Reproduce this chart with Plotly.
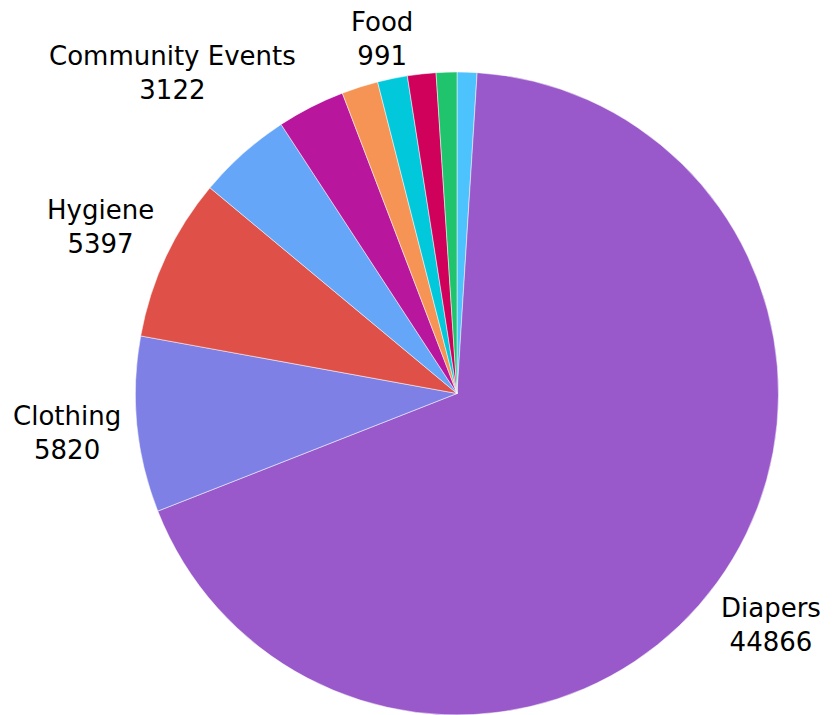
import math
import plotly.graph_objects as go

labels = ["Other 1", "Diapers", "Clothing", "Hygiene", "Community Events",
          "Other 2", "Other 3", "Food", "Other 4", "Other 5"]
values = [658, 44866, 5820, 5397, 3122, 2250, 1207, 991, 944, 684]
show_label = [False, True, True, True, True, False, False, True, False, False]
colors = ["#4cc3fd", "#9959ca", "#7f80e6", "#df5148", "#66a6f9",
          "#b8169c", "#f59454", "#02c8dc", "#cf015a", "#1fc46c"]

# layout geometry (pixels)
W, H = 838, 715
ML, MR, MT, MB = 68, 8, 64, 8
PW, PH = W - ML - MR, H - MT - MB
CX, CY = ML + PW / 2, MT + PH / 2
R = min(PW, PH) / 2
GAP = 14
label_nudge = {
    "Diapers": (-9, 0),
    "Clothing": (0, 7),
    "Hygiene": (3, 10),
    "Community Events": (64, -36),
    "Food": (-8, 8),
}

fig = go.Figure(go.Pie(
    labels=labels,
    values=values,
    textinfo="none",
    automargin=False,
    sort=False,
    direction="clockwise",
    rotation=0,
    marker=dict(colors=colors, line=dict(color="white", width=0.5)),
    showlegend=False,
    hoverinfo="label+value",
))

total = sum(values)
cum = 0
annotations = []
for lab, val, show in zip(labels, values, show_label):
    mid = math.radians(360 * (cum + val / 2) / total)
    cum += val
    if not show:
        continue
    s, c = math.sin(mid), math.cos(mid)
    px = CX + (R + GAP) * s
    py = CY - (R + GAP) * c
    nx, ny = label_nudge.get(lab, (0, 0))
    px += nx
    py += ny
    xanchor = "left" if s > 0.3 else ("right" if s < -0.3 else "center")
    yanchor = "top" if c < -0.3 else ("bottom" if c > 0.3 else "middle")
    annotations.append(dict(
        x=(px - ML) / PW, y=1 - (py - MT) / PH,
        xref="paper", yref="paper",
        text=f"{lab}<br>{val}", showarrow=False,
        xanchor=xanchor, yanchor=yanchor, align="center",
        font=dict(color="black", size=26, family="DejaVu Sans"),
    ))

fig.update_layout(
    width=W, height=H,
    margin=dict(l=ML, r=MR, t=MT, b=MB, autoexpand=False),
    paper_bgcolor="white",
    plot_bgcolor="white",
    annotations=annotations,
)
fig.write_html("out.html")
